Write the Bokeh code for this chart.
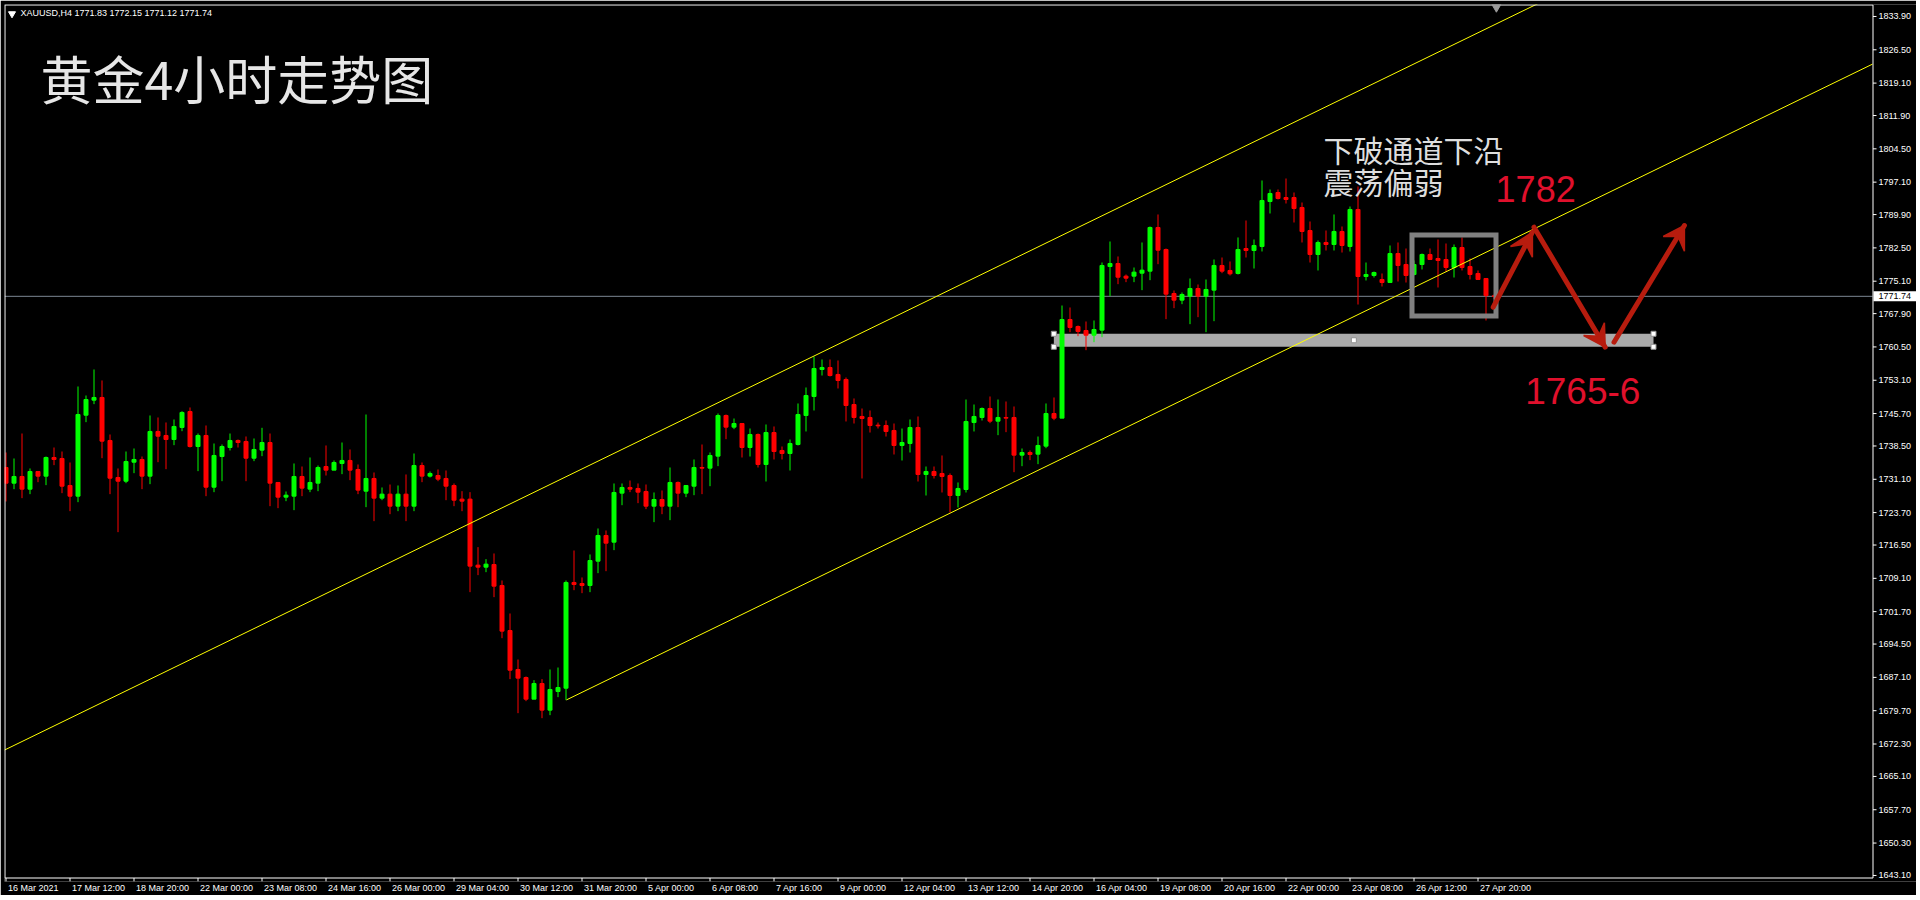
from bokeh.plotting import figure
from bokeh.models import (ColumnDataSource, Range1d, LinearAxis, FixedTicker, CustomJSTickFormatter)
from bokeh.core.properties import value
from bokeh.embed import file_html
from bokeh.resources import INLINE

# ---------------- data (XAUUSD, H4) ----------------
opens = [1733.72, 1730.24, 1731.72, 1728.91, 1732.83, 1731.80, 1735.94, 1735.72, 1729.72, 1727.35,
         1745.34, 1748.68, 1749.27, 1739.72, 1731.50, 1730.68, 1734.90, 1735.50, 1731.80, 1741.72,
         1740.83, 1739.94, 1742.61, 1746.16, 1738.38, 1740.83, 1729.35, 1736.16, 1738.16, 1739.72,
         1739.50, 1735.79, 1737.57, 1739.27, 1730.39, 1727.13, 1727.35, 1731.72, 1728.91, 1730.24,
         1733.94, 1733.13, 1734.61, 1735.28, 1733.28, 1728.46, 1731.28, 1726.91, 1727.80, 1725.13,
         1727.80, 1725.13, 1734.16, 1731.80, 1731.94, 1731.28, 1729.72, 1726.69, 1726.69, 1712.03,
         1711.58, 1712.17, 1707.51, 1697.51, 1688.85, 1687.07, 1682.26, 1685.74, 1679.82, 1683.96,
         1684.70, 1708.18, 1707.95, 1707.51, 1712.91, 1718.62, 1717.13, 1728.02, 1729.28, 1729.06,
         1728.39, 1725.13, 1726.61, 1725.13, 1730.39, 1728.02, 1729.57, 1733.72, 1733.57, 1736.24,
         1745.27, 1742.68, 1743.49, 1738.16, 1741.05, 1734.39, 1741.49, 1737.50, 1736.83, 1738.83,
         1745.27, 1749.49, 1755.49, 1755.93, 1754.38, 1753.27, 1747.71, 1745.05, 1744.83, 1743.12,
         1743.05, 1741.94, 1738.61, 1739.05, 1742.60, 1732.17, 1732.83, 1732.39, 1731.94, 1727.50,
         1728.83, 1743.71, 1744.83, 1746.83, 1744.01, 1744.83, 1744.83, 1736.46, 1737.05, 1736.68,
         1738.46, 1745.71, 1744.68, 1766.59, 1765.04, 1764.15, 1763.11, 1764.22, 1778.36, 1779.03,
         1776.22, 1776.22, 1776.88, 1777.33, 1787.03, 1782.14, 1772.37, 1770.89, 1771.78, 1773.48,
         1771.78, 1773.11, 1778.59, 1777.48, 1776.81, 1782.36, 1781.92, 1782.81, 1792.80, 1794.80,
         1793.69, 1793.69, 1791.47, 1786.36, 1781.03, 1783.70, 1783.25, 1786.14, 1782.81, 1791.03,
         1776.14, 1776.37, 1775.48, 1774.81, 1781.25, 1778.81, 1776.59, 1778.81, 1781.03, 1780.14,
         1779.92, 1778.14, 1782.58, 1778.36, 1776.81, 1775.70, 1771.83]
highs = [1737.05, 1735.72, 1741.27, 1733.50, 1732.83, 1736.16, 1738.16, 1737.27, 1734.83, 1751.71,
         1749.71, 1755.49, 1753.05, 1741.05, 1733.50, 1737.27, 1737.94, 1736.16, 1745.27, 1744.83,
         1743.72, 1744.38, 1746.23, 1747.05, 1741.27, 1743.05, 1739.05, 1738.83, 1741.27, 1739.94,
         1740.61, 1740.16, 1742.53, 1741.27, 1730.39, 1728.39, 1734.61, 1733.94, 1735.94, 1734.16,
         1738.61, 1735.28, 1739.27, 1737.72, 1734.39, 1745.49, 1732.61, 1729.28, 1729.94, 1729.72,
         1732.17, 1736.83, 1734.83, 1732.83, 1733.28, 1733.05, 1730.17, 1728.46, 1728.24, 1716.03,
         1713.36, 1714.62, 1708.62, 1701.29, 1691.07, 1687.30, 1686.48, 1686.71, 1688.85, 1689.29,
         1708.62, 1715.28, 1709.29, 1714.40, 1720.17, 1719.73, 1730.17, 1730.17, 1730.83, 1730.17,
         1729.94, 1728.17, 1728.61, 1733.72, 1730.61, 1729.72, 1735.50, 1738.83, 1737.05, 1745.71,
         1745.49, 1744.60, 1743.49, 1742.38, 1741.27, 1743.27, 1742.83, 1738.38, 1739.94, 1747.94,
         1751.49, 1758.37, 1757.71, 1757.71, 1757.49, 1753.71, 1749.05, 1746.82, 1746.38, 1743.71,
         1744.16, 1743.49, 1742.38, 1744.38, 1745.05, 1733.94, 1733.94, 1736.39, 1732.39, 1730.39,
         1748.82, 1747.71, 1747.05, 1749.49, 1748.82, 1748.38, 1747.27, 1737.94, 1737.50, 1740.60,
         1747.94, 1749.27, 1769.70, 1769.26, 1765.26, 1766.15, 1766.37, 1779.25, 1783.92, 1780.59,
         1776.59, 1778.14, 1783.70, 1787.25, 1789.92, 1782.36, 1773.03, 1772.59, 1775.70, 1774.37,
         1775.48, 1779.92, 1780.36, 1779.48, 1784.81, 1788.58, 1784.36, 1797.47, 1795.47, 1795.47,
         1797.91, 1794.80, 1792.58, 1788.36, 1784.14, 1786.36, 1789.92, 1787.25, 1791.69, 1796.14,
         1779.25, 1777.25, 1776.81, 1783.03, 1783.70, 1782.36, 1779.70, 1781.25, 1782.36, 1784.36,
         1783.47, 1783.25, 1784.81, 1780.14, 1777.48, 1775.70, 1772.15]
lows = [1726.17, 1728.91, 1726.91, 1727.80, 1730.46, 1729.80, 1734.24, 1728.02, 1724.02, 1726.02,
        1743.79, 1747.79, 1735.79, 1727.80, 1719.36, 1730.24, 1732.46, 1728.91, 1730.02, 1734.90,
        1733.35, 1738.68, 1741.79, 1738.16, 1732.91, 1727.35, 1728.24, 1730.68, 1737.50, 1738.16,
        1730.68, 1735.13, 1736.24, 1725.13, 1724.69, 1726.24, 1724.24, 1727.35, 1728.24, 1728.46,
        1731.94, 1733.13, 1732.24, 1730.91, 1727.80, 1724.91, 1721.80, 1726.46, 1723.35, 1724.02,
        1721.80, 1724.02, 1730.46, 1731.50, 1730.68, 1726.46, 1725.13, 1724.02, 1706.03, 1709.81,
        1710.47, 1704.92, 1695.81, 1686.71, 1679.15, 1681.82, 1682.26, 1678.04, 1678.71, 1682.71,
        1682.04, 1706.47, 1705.81, 1706.03, 1710.25, 1710.69, 1715.36, 1725.35, 1728.24, 1725.80,
        1724.47, 1721.58, 1723.35, 1722.02, 1724.91, 1727.13, 1727.57, 1727.80, 1729.57, 1734.02,
        1740.01, 1742.24, 1735.94, 1736.16, 1733.72, 1730.61, 1735.50, 1735.50, 1733.05, 1738.61,
        1741.72, 1746.38, 1754.15, 1753.93, 1751.27, 1743.94, 1743.49, 1731.28, 1741.49, 1742.38,
        1740.60, 1736.61, 1735.27, 1737.05, 1730.61, 1727.50, 1731.28, 1728.17, 1723.72, 1724.83,
        1728.17, 1741.72, 1744.16, 1743.57, 1740.90, 1741.57, 1732.68, 1734.01, 1735.35, 1734.46,
        1738.01, 1744.23, 1744.68, 1763.78, 1762.89, 1759.78, 1761.56, 1762.67, 1771.78, 1774.44,
        1774.89, 1774.89, 1773.11, 1775.33, 1778.88, 1766.67, 1769.11, 1770.00, 1765.56, 1767.11,
        1763.78, 1766.22, 1776.88, 1776.37, 1776.59, 1780.36, 1777.92, 1781.70, 1790.14, 1793.25,
        1792.36, 1788.14, 1783.70, 1779.25, 1777.48, 1781.92, 1781.92, 1781.47, 1781.70, 1769.92,
        1775.26, 1775.92, 1773.92, 1774.81, 1775.03, 1774.81, 1776.37, 1777.70, 1779.92, 1773.70,
        1777.25, 1775.92, 1777.48, 1775.48, 1775.48, 1766.37, 1771.12]
closes = [1730.24, 1731.72, 1728.91, 1732.83, 1731.80, 1735.94, 1735.50, 1729.57, 1727.35, 1745.49,
          1748.82, 1749.27, 1739.57, 1731.35, 1730.68, 1735.05, 1735.50, 1731.80, 1741.72, 1740.68,
          1739.94, 1742.83, 1745.94, 1738.38, 1740.83, 1729.35, 1736.39, 1738.38, 1739.72, 1739.27,
          1735.79, 1737.72, 1739.27, 1730.24, 1727.13, 1727.57, 1731.72, 1729.13, 1730.39, 1733.72,
          1733.13, 1734.83, 1735.28, 1733.13, 1728.69, 1731.28, 1726.91, 1727.80, 1725.13, 1727.80,
          1725.13, 1734.16, 1731.80, 1732.39, 1731.13, 1729.57, 1726.46, 1726.24, 1711.81, 1711.58,
          1712.25, 1707.36, 1697.37, 1688.70, 1686.93, 1682.26, 1685.74, 1679.82, 1684.41, 1684.85,
          1708.18, 1707.73, 1707.51, 1713.06, 1718.62, 1716.91, 1728.17, 1729.28, 1728.91, 1728.24,
          1725.13, 1726.61, 1725.13, 1730.39, 1728.02, 1729.72, 1733.72, 1733.57, 1736.39, 1745.27,
          1742.68, 1743.49, 1738.16, 1741.05, 1734.39, 1741.49, 1737.27, 1736.83, 1739.05, 1745.49,
          1749.71, 1755.71, 1755.93, 1754.15, 1753.04, 1747.49, 1744.83, 1744.60, 1743.05, 1742.97,
          1741.72, 1738.61, 1739.27, 1742.60, 1732.17, 1732.83, 1731.94, 1731.72, 1727.50, 1729.06,
          1743.94, 1745.05, 1746.82, 1744.01, 1744.83, 1744.68, 1736.46, 1737.05, 1736.61, 1738.61,
          1745.71, 1744.68, 1766.59, 1764.82, 1763.93, 1763.11, 1764.37, 1778.59, 1779.03, 1775.99,
          1775.77, 1777.11, 1777.55, 1787.03, 1781.99, 1772.22, 1770.89, 1772.15, 1773.48, 1771.78,
          1773.26, 1778.59, 1777.33, 1776.74, 1782.14, 1781.92, 1783.03, 1793.03, 1794.58, 1793.47,
          1793.25, 1791.25, 1786.14, 1781.03, 1783.70, 1783.25, 1786.14, 1783.03, 1791.03, 1776.14,
          1776.59, 1777.03, 1774.81, 1781.25, 1778.59, 1776.37, 1778.81, 1781.03, 1779.92, 1779.70,
          1778.14, 1782.58, 1778.14, 1776.59, 1775.48, 1771.90, 1771.74]

x_tick_labels = ["16 Mar 2021", "17 Mar 12:00", "18 Mar 20:00", "22 Mar 00:00", "23 Mar 08:00",
                 "24 Mar 16:00", "26 Mar 00:00", "29 Mar 04:00", "30 Mar 12:00", "31 Mar 20:00",
                 "5 Apr 00:00", "6 Apr 08:00", "7 Apr 16:00", "9 Apr 00:00", "12 Apr 04:00",
                 "13 Apr 12:00", "14 Apr 20:00", "16 Apr 04:00", "19 Apr 08:00", "20 Apr 16:00",
                 "22 Apr 00:00", "23 Apr 08:00", "26 Apr 12:00", "27 Apr 20:00"]
x_tick_bars = [8 * k for k in range(len(x_tick_labels))]
price_ticks = [1833.90, 1826.50, 1819.10, 1811.90, 1804.50, 1797.10, 1789.90, 1782.50, 1775.10,
               1767.90, 1760.50, 1753.10, 1745.70, 1738.50, 1731.10, 1723.70, 1716.50, 1709.10,
               1701.70, 1694.50, 1687.10, 1679.70, 1672.30, 1665.10, 1657.70, 1650.30, 1643.10]
last_price = 1771.74
header_text = "XAUUSD,H4  1771.83 1772.15 1771.12 1771.74"
title_text = "黄金4小时走势图"
note_lines = ["下破通道下沿", "震荡偏弱"]
target_up = "1782"
target_down = "1765-6"

# ---------------- drawn objects (bar index, price) ----------------
channel_slope = 0.865
upper_anchor = (0.0, 1671.12)
lower_anchor = (70.06, 1682.10)
support_band = dict(left=130.98, right=205.94, top=1763.42, bottom=1760.53)
band_handles = ([130.98, 130.98, 205.94, 205.94, 168.48], [1763.42, 1760.53, 1763.42, 1760.53, 1761.98])
focus_box = dict(left=175.75, right=186.25, top=1785.36, bottom=1767.37)
shift_marker = (186.3, 1836.0)
# start, tip, barb left, barb right
arrows = [
    ((185.9, 1769.33), (190.8, 1785.99), (188.06, 1782.81), (190.8, 1780.43)),
    ((191.0, 1787.10), (199.9, 1760.44), (197.2, 1763.04), (199.8, 1765.86)),
    ((201.0, 1761.55), (209.8, 1787.47), (207.15, 1785.03), (209.8, 1781.76)),
]

BULL = "#00ff00"
BEAR = "#ff0000"
ARROW = "#b71c0e"
TEXT_RED = "#e0102c"
AXIS_FONT = "Liberation Sans"

# frame geometry: bars on x, price on y
X0, X1 = -0.1875, 238.8125
Y0, Y1 = 1641.76, 1836.56
FW, FH = 1912, 877
ppx = FW / (X1 - X0)          # pixels per bar
ppy = FH / (Y1 - Y0)          # pixels per price unit
chart_right = 233.3125        # right edge of the price chart (price scale to the right)

p = figure(frame_width=FW, frame_height=FH, x_range=Range1d(X0, X1), y_range=Range1d(Y0, Y1),
           output_backend="svg", toolbar_location=None,
           x_axis_location=None, y_axis_location=None,
           background_fill_color="black", border_fill_color="black",
           min_border_left=4, min_border_top=4, min_border_right=0, min_border_bottom=12,
           outline_line_color=None)
p.grid.visible = False

# support band (background object)
p.quad(left=[support_band["left"]], right=[support_band["right"]], top=[support_band["top"]],
       bottom=[support_band["bottom"]], fill_color="#aaaaaa", line_color=None)

# current price line
p.line([X0, chart_right], [last_price, last_price], line_color="#7c8794", line_width=1)

# candles
idx = list(range(len(opens)))
up = [i for i in idx if closes[i] >= opens[i]]
dn = [i for i in idx if closes[i] < opens[i]]
for sel, col in ((up, BULL), (dn, BEAR)):
    src = ColumnDataSource(dict(
        x=sel, l=[lows[i] for i in sel], h=[highs[i] for i in sel],
        top=[max(opens[i], closes[i]) for i in sel], bot=[min(opens[i], closes[i]) for i in sel]))
    p.segment(x0="x", y0="l", x1="x", y1="h", source=src, line_color=col, line_width=1)
    p.vbar(x="x", top="top", bottom="bot", width=0.5, source=src, fill_color=col,
           line_color=col, line_width=1)

# price channel
p.line([X0, 200.0], [upper_anchor[1] + channel_slope * (X0 - upper_anchor[0]),
                     upper_anchor[1] + channel_slope * (200.0 - upper_anchor[0])],
       line_color="#ffff00", line_width=1)
p.line([lower_anchor[0], chart_right],
       [lower_anchor[1], lower_anchor[1] + channel_slope * (chart_right - lower_anchor[0])],
       line_color="#ffff00", line_width=1)

# focus box
p.quad(left=[focus_box["left"]], right=[focus_box["right"]], top=[focus_box["top"]],
       bottom=[focus_box["bottom"]], fill_color=None, line_color="#808080", line_width=5,
       line_join="miter")

# band handles
p.scatter(list(band_handles[0]), list(band_handles[1]), marker="square", size=5,
          fill_color="white", line_color="#909090", line_width=1)

# arrows
for (s, t, bl, br) in arrows:
    p.line([s[0], t[0]], [s[1], t[1]], line_color=ARROW, line_width=5, line_cap="round")
    mx, my = (bl[0] + br[0]) / 2, (bl[1] + br[1]) / 2
    nx, ny = t[0] + 0.6 * (mx - t[0]), t[1] + 0.6 * (my - t[1])
    p.patch([t[0], bl[0], nx, br[0]], [t[1], bl[1], ny, br[1]], fill_color=ARROW,
            line_color=ARROW, line_width=1.5)

# chart frame border lines
top_y = Y1 - 0.5 / ppy
bottom_y = Y0 + 3.5 / ppy
left_x = X0 + 0.5 / ppx
right_x = chart_right + 0.5 / ppx
p.line([left_x, right_x, right_x], [top_y, top_y, bottom_y], line_color="white", line_width=1)
p.line([left_x, left_x, right_x], [top_y, bottom_y, bottom_y], line_color="white", line_width=1)

# chart-shift marker at the top edge
p.scatter([shift_marker[0]], [shift_marker[1]], marker="inverted_triangle", size=9,
          fill_color="#9a9a9a", line_color="#9a9a9a")

# price scale (right)
p.segment(x0=[right_x] * len(price_ticks), y0=price_ticks,
          x1=[right_x + 3.5 / ppx] * len(price_ticks), y1=price_ticks,
          line_color="white", line_width=1)
p.text(x=[chart_right + 6 / ppx] * len(price_ticks), y=price_ticks,
       text=["%.2f" % v for v in price_ticks], text_font=value(AXIS_FONT),
       text_font_size="9px", text_color="white", text_baseline="middle", text_align="left")
p.quad(left=[chart_right + 1 / ppx], right=[X1], top=[last_price + 5 / ppy],
       bottom=[last_price - 5 / ppy], fill_color="white", line_color=None)
p.text(x=[chart_right + 6 / ppx], y=[last_price], text=["%.2f" % last_price],
       text_font=value(AXIS_FONT), text_font_size="9px", text_color="black",
       text_baseline="middle", text_align="left")

# time scale tick marks
p.segment(x0=x_tick_bars, y0=[bottom_y] * len(x_tick_bars), x1=x_tick_bars,
          y1=[Y0] * len(x_tick_bars), line_color="white", line_width=1)

# texts
p.scatter([0.75], [1834.5], marker="inverted_triangle", size=7, fill_color="white", line_color="white")
p.text([1.81], [1834.72], text=[header_text], text_font=value(AXIS_FONT),
       text_font_size="9px", text_color="white", text_baseline="middle", text_align="left")
p.text([4.31], [1820.24], text=[title_text], text_font=value("Noto Sans CJK SC"),
       text_font_size="52px", text_color="#e6e6e6", text_baseline="middle", text_align="left")
p.text([164.69, 164.69], [1804.47, 1797.25], text=note_lines, text_font=value("Noto Sans CJK SC"),
       text_font_size="30px", text_color="#dedede", text_baseline="middle", text_align="left")
p.text([186.2], [1795.47], text=[target_up], text_font=value("Liberation Sans"),
       text_font_size="36px", text_color=TEXT_RED, text_baseline="middle", text_align="left")
p.text([189.9], [1750.6], text=[target_down], text_font=value("Liberation Sans"),
       text_font_size="37px", text_color=TEXT_RED, text_baseline="middle", text_align="left")

# bottom time axis labels (left-aligned at their tick marks)
CW = {" ": 0.278, ":": 0.278, "M": 0.833, "a": 0.556, "r": 0.333, "A": 0.667, "p": 0.556}
def text_width(s, size):
    return sum(CW.get(ch, 0.556) for ch in s) * size

centers = [b + (text_width(t, 9) / 2 + 2) / ppx for b, t in zip(x_tick_bars, x_tick_labels)]
fmt = CustomJSTickFormatter(args=dict(centers=centers, labels=x_tick_labels), code="""
let k = 0, best = Infinity;
for (let j = 0; j < centers.length; j++) {
  const d = Math.abs(centers[j] - tick);
  if (d < best) { best = d; k = j; }
}
return labels[k];
""")
xb = LinearAxis(ticker=FixedTicker(ticks=centers), formatter=fmt, axis_line_color=None,
                major_tick_line_color=None, major_tick_out=0, major_tick_in=0,
                minor_tick_line_color=None, major_label_text_color="white",
                major_label_text_font=AXIS_FONT, major_label_text_font_size="9px",
                major_label_standoff=1)
p.add_layout(xb, "below")

open("out.html", "w").write(file_html(p, INLINE))
